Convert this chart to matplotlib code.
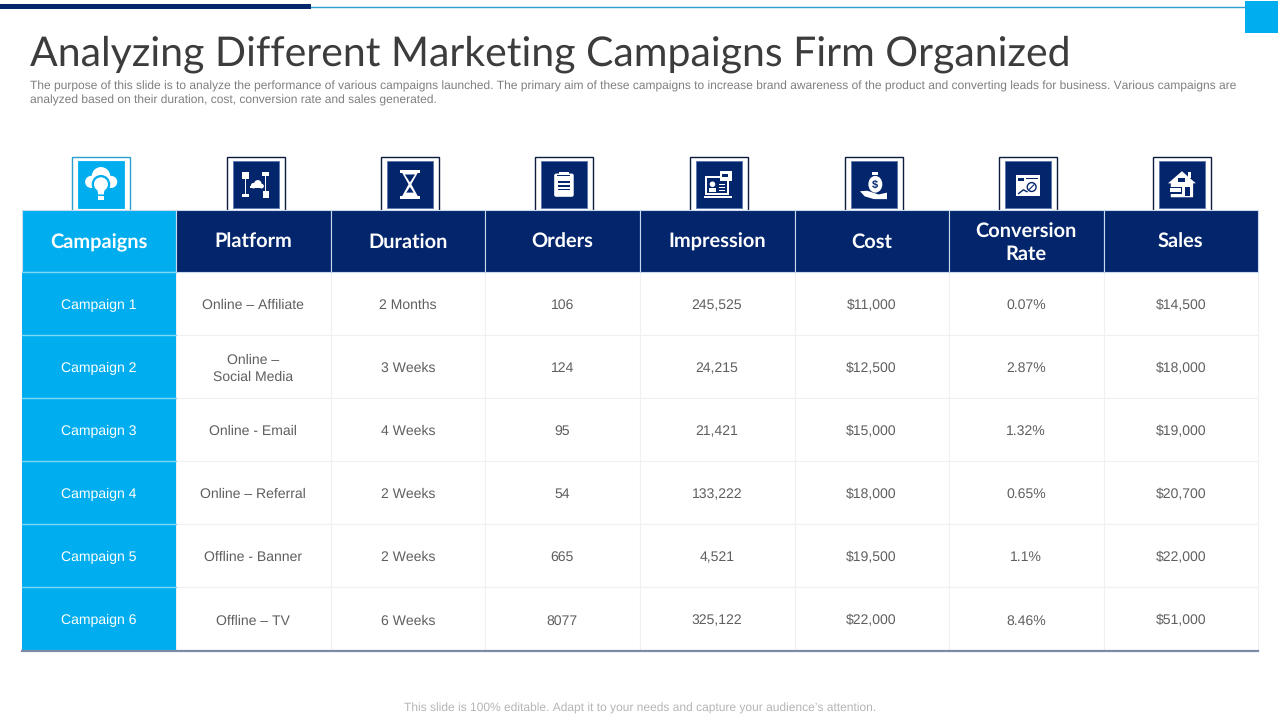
import matplotlib
matplotlib.use("Agg")
import matplotlib.pyplot as plt
from matplotlib.patches import Rectangle, Circle, Ellipse, Polygon, FancyBboxPatch

# keep glyph advances linear so text widths follow the font size
plt.rcParams["text.hinting"] = "none"
plt.rcParams["text.hinting_factor"] = 1

NAVY = "#03256c"
CYAN = "#00aeef"
GREY = "#5f5f5f"

title = "Analyzing Different Marketing Campaigns Firm Organized"
subtitle_1 = ("The purpose of this slide is to analyze the performance of various campaigns launched. "
              "The primary aim of these campaigns to increase brand awareness of the product and "
              "converting leads for business. Various campaigns are")
subtitle_2 = "analyzed based on their duration, cost, conversion rate and sales generated."
footer = "This slide is 100% editable. Adapt it to your needs and capture your audience\u2019s attention."

headers = ["Campaigns", "Platform", "Duration", "Orders", "Impression", "Cost", "Conversion\nRate", "Sales"]
campaigns = ["Campaign 1", "Campaign 2", "Campaign 3", "Campaign 4", "Campaign 5", "Campaign 6"]
platforms = ["Online \u2013 Affiliate", "Online \u2013\nSocial Media", "Online - Email",
             "Online \u2013 Referral", "Offline - Banner", "Offline \u2013 TV"]
durations = ["2 Months", "3 Weeks", "4 Weeks", "2 Weeks", "2 Weeks", "6 Weeks"]
orders = ["106", "124", "95", "54", "665", "8077"]
impressions = ["245,525", "24,215", "21,421", "133,222", "4,521", "325,122"]
costs = ["$11,000", "$12,500", "$15,000", "$18,000", "$19,500", "$22,000"]
conversion = ["0.07%", "2.87%", "1.32%", "0.65%", "1.1%", "8.46%"]
sales = ["$14,500", "$18,000", "$19,000", "$20,700", "$22,000", "$51,000"]

columns = [campaigns, platforms, durations, orders, impressions, costs, conversion, sales]

col_edges = [22, 176, 330.5, 485, 639.5, 794.5, 948.5, 1103.5, 1258]
row_edges = [210, 272, 335, 398, 461, 524, 587, 651]

frame_lefts = [72, 227, 381, 535, 690, 845, 999, 1153]

fig = plt.figure(figsize=(12.8, 7.2), dpi=100)
ax = fig.add_axes([0, 0, 1, 1])
ax.set_xlim(0, 1280)
ax.set_ylim(720, 0)
ax.axis("off")


# top decoration
ax.add_patch(Rectangle((0, 4), 311, 4.5, color=NAVY, lw=0))
ax.plot([311, 1245], [6.5, 6.5], color="#2a9fd0", lw=1)
ax.add_patch(Rectangle((1245, 1), 33, 32, color=CYAN, lw=0))

ax.text(30, 54, title, fontsize=29.2, family="Lato", fontweight="normal", color="#3c3c3c",
        va="center", ha="left")
ax.text(30, 86.5, subtitle_1, fontsize=8.72, family="Liberation Sans", color="#7f7f7f", va="center")
ax.text(30, 100.5, subtitle_2, fontsize=8.72, family="Liberation Sans", color="#7f7f7f", va="center")
ax.text(640.5, 708, footer, fontsize=8.75, family="Liberation Sans", color="#b5b5b5", va="center", ha="center")


# simple white glyphs, u/v run from 0 to 1 over the icon square
def icon(i, x0, y0, s, fg="white", bg=NAVY):
    def X(u):
        return x0 + u * s

    def Y(v):
        return y0 + v * s

    def box(u, v, w, h, c=fg):
        ax.add_patch(Rectangle((X(u), Y(v)), w * s, h * s, color=c, lw=0, zorder=5))

    def blob(u, v, r, c=fg):
        ax.add_patch(Circle((X(u), Y(v)), r * s, color=c, lw=0, zorder=5))

    def poly(pts, c=fg):
        ax.add_patch(Polygon([(X(u), Y(v)) for u, v in pts], color=c, lw=0, zorder=5))

    if i == 0:  # cloud and bulb
        blob(0.5, 0.33, 0.2)
        blob(0.29, 0.45, 0.13)
        blob(0.72, 0.45, 0.13)
        blob(0.5, 0.5, 0.2, bg)
        blob(0.5, 0.5, 0.15)
        poly([(0.42, 0.6), (0.58, 0.6), (0.56, 0.72), (0.44, 0.72)])
        box(0.43, 0.75, 0.14, 0.035)
        box(0.43, 0.8, 0.14, 0.035)
    elif i == 1:  # network
        ax.plot([X(0.27), X(0.27)], [Y(0.3), Y(0.7)], color=fg, lw=0.7, zorder=5)
        ax.plot([X(0.7), X(0.7)], [Y(0.3), Y(0.7)], color=fg, lw=0.7, zorder=5)
        box(0.2, 0.23, 0.14, 0.16)
        box(0.62, 0.23, 0.17, 0.1)
        box(0.2, 0.72, 0.16, 0.05)
        box(0.65, 0.65, 0.12, 0.14)
        blob(0.45, 0.53, 0.06)
        blob(0.54, 0.49, 0.08)
        blob(0.62, 0.54, 0.05)
        box(0.38, 0.53, 0.26, 0.06)
    elif i == 2:  # hourglass
        box(0.28, 0.2, 0.44, 0.05)
        box(0.28, 0.76, 0.44, 0.05)
        poly([(0.33, 0.25), (0.67, 0.25), (0.53, 0.5), (0.67, 0.76), (0.33, 0.76), (0.47, 0.5)])
        poly([(0.39, 0.29), (0.61, 0.29), (0.5, 0.46)], bg)
        poly([(0.5, 0.56), (0.58, 0.68), (0.42, 0.68)], bg)
    elif i == 3:  # clipboard
        ax.add_patch(FancyBboxPatch((X(0.29), Y(0.27)), 0.42 * s, 0.5 * s,
                                    boxstyle="round,pad=0,rounding_size=2", color=fg, lw=0, zorder=5))
        box(0.39, 0.23, 0.22, 0.07)
        box(0.36, 0.31, 0.28, 0.02, bg)
        for v in [0.44, 0.52, 0.6]:
            box(0.38, v, 0.24, 0.03, bg)
    elif i == 4:  # laptop with megaphone
        box(0.2, 0.32, 0.52, 0.42)
        box(0.25, 0.37, 0.42, 0.32, bg)
        box(0.17, 0.75, 0.6, 0.05)
        blob(0.36, 0.5, 0.06)
        box(0.28, 0.57, 0.16, 0.1)
        for v in [0.5, 0.56, 0.62]:
            box(0.5, v, 0.13, 0.025)
        box(0.52, 0.22, 0.26, 0.2)
        box(0.56, 0.27, 0.14, 0.08, bg)
    elif i == 5:  # money bag on hand
        ax.add_patch(Ellipse((X(0.53), Y(0.5)), 0.3 * s, 0.36 * s, color=fg, lw=0, zorder=5))
        box(0.46, 0.23, 0.13, 0.08)
        ax.text(X(0.53), Y(0.5), "$", color=bg, fontsize=8, fontweight="bold",
                ha="center", va="center", family="Liberation Sans", zorder=6)
        poly([(0.2, 0.65), (0.36, 0.64), (0.6, 0.72), (0.78, 0.68), (0.78, 0.82),
              (0.5, 0.82), (0.3, 0.76)])
    elif i == 6:  # window with percent tag
        box(0.24, 0.3, 0.52, 0.46)
        box(0.28, 0.36, 0.14, 0.07, bg)
        box(0.46, 0.36, 0.26, 0.025, bg)
        blob(0.58, 0.56, 0.11, bg)
        blob(0.58, 0.56, 0.08)
        ax.plot([X(0.53), X(0.63)], [Y(0.61), Y(0.51)], color=bg, lw=0.8, zorder=6)
        ax.plot([X(0.3), X(0.4), X(0.48)], [Y(0.7), Y(0.62), Y(0.66)], color=bg, lw=1, zorder=6)
    else:  # house
        poly([(0.2, 0.48), (0.5, 0.22), (0.8, 0.48), (0.74, 0.48), (0.74, 0.78), (0.26, 0.78), (0.26, 0.48)])
        box(0.42, 0.36, 0.15, 0.09, bg)
        box(0.62, 0.24, 0.08, 0.12)
        box(0.57, 0.55, 0.1, 0.21, bg)
        box(0.22, 0.56, 0.28, 0.14, bg)
        box(0.25, 0.59, 0.22, 0.08)


# icon frames
for i, left in enumerate(frame_lefts):
    edge = "#2a9fd0" if i == 0 else "#0d1b3e"
    fill = CYAN if i == 0 else NAVY
    ax.add_patch(Rectangle((left, 156.5), 58, 54, fc="white", ec=edge, lw=1, zorder=1))
    ax.add_patch(Rectangle((left + 5.7, 161), 46.5, 47, fc=fill, ec="#5a76ad" if i else fill, lw=0.6, zorder=2))
    icon(i, left + 5.7, 161, 46.5, bg=fill)

# header row, va=baseline anchors the last line so labels share a line
for c, head in enumerate(headers):
    x0, x1 = col_edges[c], col_edges[c + 1]
    fill = CYAN if c == 0 else NAVY
    ax.add_patch(Rectangle((x0, row_edges[0]), x1 - x0, row_edges[1] - row_edges[0],
                           fc=fill, ec="#c9d9ee", lw=0.8, zorder=3))
    extra_lines = head.count("\n")
    ax.text((x0 + x1) / 2, (row_edges[0] + row_edges[1]) / 2 + 7 + 11.5 * extra_lines, head,
            color="white", fontsize=14.5, family="Lato", fontweight="bold", ha="center",
            va="baseline", linespacing=1.33, zorder=4)

# body rows
for c, values in enumerate(columns):
    x0, x1 = col_edges[c], col_edges[c + 1]
    for r, value in enumerate(values):
        y0, y1 = row_edges[r + 1], row_edges[r + 2]
        if c == 0:
            ax.add_patch(Rectangle((x0, y0), x1 - x0, y1 - y0, fc=CYAN, lw=0, zorder=3))
            ax.plot([x0, x1], [y0, y0], color="#7fd6f7", lw=1, zorder=3.5)
        else:
            ax.add_patch(Rectangle((x0, y0), x1 - x0, y1 - y0, fc="white", ec="#eef0f3", lw=0.8, zorder=2))
        extra_lines = value.count("\n")
        ax.text((x0 + x1) / 2, (y0 + y1) / 2 + 5.5 + 9 * extra_lines, value,
                color="white" if c == 0 else GREY, fontsize=10.4, family="Liberation Sans",
                ha="center", va="baseline", linespacing=1.38, zorder=4)

ax.plot([col_edges[0], col_edges[-1]], [row_edges[-1], row_edges[-1]], color="#7c8ba5", lw=1.6, zorder=3)

fig.savefig("out.png", dpi=100)
